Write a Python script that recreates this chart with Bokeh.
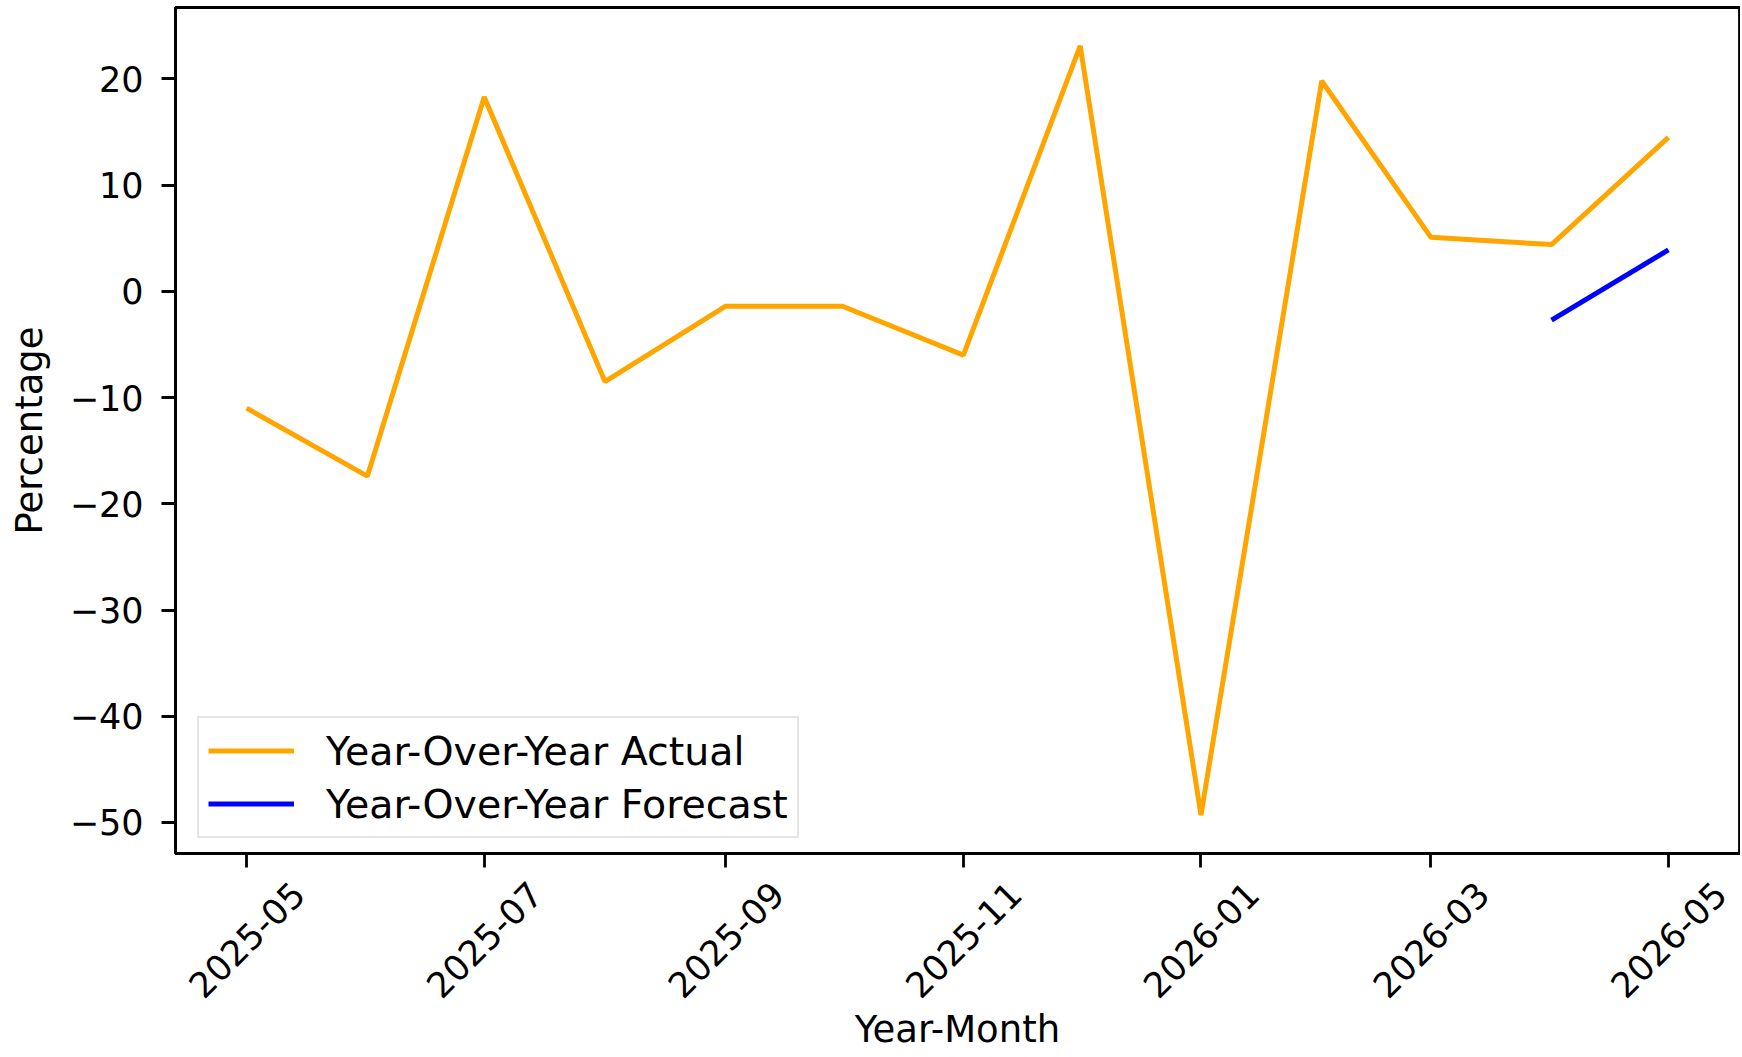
import math
import pandas as pd
from bokeh.plotting import figure
from bokeh.layouts import column
from bokeh.models import (Range1d, FixedTicker, Legend, LegendItem, CustomJSTickFormatter)
from bokeh.core.properties import value
from bokeh.embed import file_html
from bokeh.resources import INLINE

# ---- data ----
months = ["2025-05", "2025-06", "2025-07", "2025-08", "2025-09", "2025-10", "2025-11",
          "2025-12", "2026-01", "2026-02", "2026-03", "2026-04", "2026-05"]
yoy_actual = [-11.0, -17.4, 18.3, -8.5, -1.4, -1.4, -6.0, 23.1, -49.3, 19.8, 5.1, 4.4, 14.5]
forecast_months = ["2026-04", "2026-05"]
yoy_forecast = [-2.7, 3.9]
x_tick_labels = ["2025-05", "2025-07", "2025-09", "2025-11", "2026-01", "2026-03", "2026-05"]
y_ticks = [-50, -40, -30, -20, -10, 0, 10, 20]
y_tick_labels = ["\u221250", "\u221240", "\u221230", "\u221220", "\u221210", "0", "10", "20"]

x_actual = pd.to_datetime(months, format="%Y-%m")
x_fc = pd.to_datetime(forecast_months, format="%Y-%m")
x_ticks = pd.to_datetime(x_tick_labels, format="%Y-%m")
tick_ms = [float(t.value // 10**6) for t in x_ticks]

# matplotlib-like 5% margins
span = x_actual.max() - x_actual.min()
x0 = x_actual.min() - span * 0.05
x1 = x_actual.max() + span * 0.05
x0_ms, x1_ms = float(x0.value // 10**6), float(x1.value // 10**6)
all_y = yoy_actual + yoy_forecast
ymin, ymax = min(all_y), max(all_y)
yr = ymax - ymin
y_start, y_end = ymin - 0.05 * yr, ymax + 0.05 * yr

FONT = "DejaVu Sans"
TICK_FS = "35px"
LABEL_FS = "37px"
LEG_FS = "39.5px"
LW = 5
AX_W = 2.8
W = 1740
LEFT = 175
RIGHT = 1
H_MAIN = 869
H_STRIP = 186

xrange_shared = Range1d(x0_ms, x1_ms)

# ---------------- main plot ----------------
p = figure(width=W, height=H_MAIN, output_backend="svg", toolbar_location=None,
           x_axis_type="datetime",
           x_range=xrange_shared, y_range=Range1d(y_start, y_end),
           min_border_left=LEFT, min_border_right=RIGHT, min_border_top=7, min_border_bottom=16)
p.grid.visible = False
p.outline_line_color = "black"
p.outline_line_width = AX_W
p.background_fill_color = "white"
p.border_fill_color = "white"

r1 = p.line(x_actual, yoy_actual, line_color="orange", line_width=LW)
r2 = p.line(x_fc, yoy_forecast, line_color="blue", line_width=LW)

xa = p.xaxis[0]
xa.ticker = FixedTicker(ticks=tick_ms, minor_ticks=[])
xa.formatter = CustomJSTickFormatter(code="return ''")
xa.major_label_text_font_size = "0px"
xa.major_label_standoff = 0

ya = p.yaxis[0]
ya.ticker = FixedTicker(ticks=y_ticks, minor_ticks=[])
ya.major_label_overrides = {float(t): l for t, l in zip(y_ticks, y_tick_labels)}
ya.axis_label = "Percentage"
ya.major_label_text_font = FONT
ya.major_label_text_font_size = TICK_FS
ya.major_label_text_color = "black"
ya.axis_label_text_font = FONT
ya.axis_label_text_font_size = LABEL_FS
ya.axis_label_text_font_style = "normal"
ya.axis_label_text_color = "black"
ya.major_label_standoff = 18
ya.axis_label_standoff = 16

for ax in (xa, ya):
    ax.axis_line_color = "black"
    ax.axis_line_width = AX_W
    ax.major_tick_line_color = "black"
    ax.major_tick_line_width = AX_W
    ax.major_tick_out = 14
    ax.major_tick_in = 0
    ax.minor_tick_out = 0
    ax.minor_tick_in = 0

legend = Legend(items=[LegendItem(label="Year-Over-Year Actual", renderers=[r1]),
                       LegendItem(label="Year-Over-Year Forecast", renderers=[r2])],
                location=(22, 15))
legend.label_text_font = FONT
legend.label_text_font_size = LEG_FS
legend.label_text_color = "black"
legend.glyph_width = 86
legend.glyph_height = 47
legend.label_height = 47
legend.label_standoff = 32
legend.spacing = 6
legend.padding = 9
legend.margin = 0
legend.border_line_color = "#cccccc"
legend.border_line_width = 2.6
legend.background_fill_alpha = 0.8
p.add_layout(legend, "center")

# ---------------- x tick labels + x axis title strip ----------------
p2 = figure(width=W, height=H_STRIP, output_backend="svg", toolbar_location=None,
            x_range=xrange_shared, y_range=Range1d(0, 1),
            x_axis_location=None, y_axis_location=None,
            min_border_left=LEFT, min_border_right=RIGHT, min_border_top=0, min_border_bottom=0)
p2.grid.visible = False
p2.outline_line_color = None
p2.background_fill_color = "white"
p2.border_fill_color = "white"

p2.text(x=tick_ms, y=[0.624] * len(tick_ms), text=x_tick_labels, angle=math.pi / 4,
        text_align="center", text_baseline="middle",
        text_font=value(FONT), text_font_size=value(TICK_FS), text_color="black")
p2.text(x=[(x0_ms + x1_ms) / 2], y=[0.14], text=["Year-Month"],
        text_align="center", text_baseline="middle",
        text_font=value(FONT), text_font_size=value(LABEL_FS), text_color="black")

layout = column(p, p2, spacing=0)
open("out.html", "w").write(file_html(layout, INLINE))
